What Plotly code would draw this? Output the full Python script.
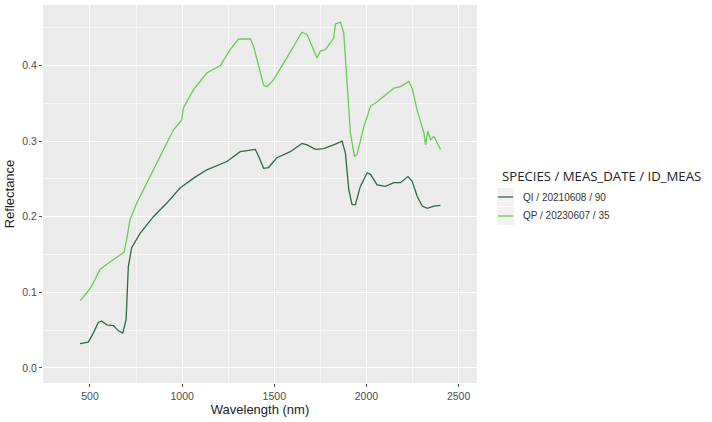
import plotly.graph_objects as go

# QI / 20210608 / 90  (dark green)
qi_wl = [446, 491, 518, 545, 563, 591, 627, 654, 678, 696, 708, 726, 772, 844, 917, 989,
         1062, 1134, 1243, 1315, 1397, 1415, 1442, 1469, 1514, 1587, 1650, 1678, 1723,
         1768, 1822, 1868, 1886, 1904, 1922, 1940, 1967, 2004, 2022, 2058, 2103, 2149,
         2185, 2225, 2248, 2275, 2303, 2330, 2366, 2402]
qi_refl = [0.032, 0.034, 0.046, 0.060, 0.062, 0.057, 0.056, 0.049, 0.046, 0.064, 0.134,
           0.159, 0.178, 0.200, 0.218, 0.238, 0.251, 0.262, 0.273, 0.286, 0.289, 0.280,
           0.264, 0.265, 0.278, 0.286, 0.297, 0.295, 0.289, 0.290, 0.295, 0.300, 0.284,
           0.236, 0.216, 0.216, 0.240, 0.258, 0.256, 0.242, 0.240, 0.245, 0.245, 0.253,
           0.247, 0.227, 0.214, 0.211, 0.214, 0.215]

# QP / 20230607 / 35  (light green)
qp_wl = [446, 482, 509, 536, 554, 591, 627, 663, 685, 699, 717, 754, 808, 862, 917, 953,
         998, 1007, 1062, 1134, 1207, 1261, 1306, 1370, 1388, 1415, 1442, 1460, 1496,
         1551, 1605, 1650, 1678, 1705, 1732, 1750, 1777, 1822, 1832, 1859, 1877, 1895,
         1913, 1935, 1949, 1986, 2022, 2058, 2112, 2149, 2185, 2230, 2248, 2275, 2312,
         2321, 2333, 2348, 2366, 2384, 2402]
qp_refl = [0.089, 0.099, 0.108, 0.121, 0.130, 0.137, 0.143, 0.150, 0.153, 0.170, 0.196,
           0.218, 0.244, 0.271, 0.297, 0.315, 0.328, 0.344, 0.368, 0.390, 0.400, 0.421,
           0.435, 0.435, 0.425, 0.399, 0.374, 0.372, 0.381, 0.403, 0.425, 0.444, 0.441,
           0.425, 0.410, 0.419, 0.421, 0.436, 0.455, 0.457, 0.443, 0.377, 0.311, 0.280,
           0.282, 0.319, 0.346, 0.352, 0.363, 0.370, 0.372, 0.379, 0.370, 0.341, 0.311,
           0.295, 0.313, 0.302, 0.306, 0.297, 0.289]

x_ticks = [500, 1000, 1500, 2000, 2500]
y_ticks = [0.0, 0.1, 0.2, 0.3, 0.4]
y_tick_labels = ["0.0", "0.1", "0.2", "0.3", "0.4"]

series_names = ["QI / 20210608 / 90", "QP / 20230607 / 35"]
series_colors = ["#2f6a43", "#68cc52"]
legend_title = "SPECIES / MEAS_DATE / ID_MEAS"

W, H = 712, 422
ML, MR, MT, MB = 43, 235, 5, 39
PW, PH = W - ML - MR, H - MT - MB


def px_to_paper(px, py):
    return (px - ML) / PW, (H - MB - py) / PH


fig = go.Figure()
fig.add_trace(go.Scatter(x=qi_wl, y=qi_refl, mode="lines", name=series_names[0],
                         line=dict(color=series_colors[0], width=1.3), showlegend=False))
fig.add_trace(go.Scatter(x=qp_wl, y=qp_refl, mode="lines", name=series_names[1],
                         line=dict(color=series_colors[1], width=1.3), showlegend=False))

axis_common = dict(showgrid=True, gridcolor="white", gridwidth=1.1, zeroline=False,
                   ticks="outside", ticklen=3, tickcolor="#4d4d4d", showline=False,
                   automargin=False,
                   tickfont=dict(family="Liberation Sans, Arial", size=10.5, color="#4d4d4d"),
                   title_font=dict(family="Liberation Sans, Arial", size=13, color="#222222"))

fig.update_xaxes(range=[245, 2600], tickvals=x_ticks, title_text="Wavelength (nm)",
                 title_standoff=2,
                 minor=dict(dtick=250, tick0=0, showgrid=True, gridcolor="#f7f7f7", gridwidth=0.6),
                 **axis_common)
fig.update_yaxes(range=[-0.02, 0.48], tickvals=y_ticks, ticktext=y_tick_labels,
                 title_text="Reflectance", title_standoff=4,
                 minor=dict(dtick=0.05, tick0=0, showgrid=True, gridcolor="#f7f7f7", gridwidth=0.6),
                 **axis_common)

# manual ggplot-style legend
shapes = []
annotations = []
tx, ty = px_to_paper(500, 176)
annotations.append(dict(x=tx, y=ty, xref="paper", yref="paper", xanchor="left", yanchor="middle",
                        text=legend_title, showarrow=False,
                        font=dict(family="Open Sans, Noto Sans", size=13.2, color="#222222")))
for i, (name, col) in enumerate(zip(series_names, series_colors)):
    cy = 197 + i * 19
    x0, y0 = px_to_paper(497, cy - 9)
    x1, y1 = px_to_paper(514, cy + 9)
    shapes.append(dict(type="rect", xref="paper", yref="paper", x0=x0, x1=x1, y0=y1, y1=y0,
                       fillcolor="#f2f2f2", line=dict(width=0), layer="below"))
    lx0, ly = px_to_paper(498, cy)
    lx1, _ = px_to_paper(513, cy)
    shapes.append(dict(type="line", xref="paper", yref="paper", x0=lx0, x1=lx1, y0=ly, y1=ly,
                       line=dict(color=col, width=1.3)))
    ax, ay = px_to_paper(521, cy)
    annotations.append(dict(x=ax, y=ay, xref="paper", yref="paper", xanchor="left", yanchor="middle",
                            text=name, showarrow=False,
                            font=dict(family="Liberation Sans, Arial", size=10, color="#333333")))

fig.update_layout(
    width=W, height=H,
    margin=dict(l=ML, r=MR, t=MT, b=MB, autoexpand=False),
    plot_bgcolor="#ebebeb", paper_bgcolor="white",
    showlegend=False,
    shapes=shapes, annotations=annotations,
)

fig.write_html("out.html", config={"displayModeBar": False},
               post_script="document.body.style.margin='0';document.body.style.padding='0';")
